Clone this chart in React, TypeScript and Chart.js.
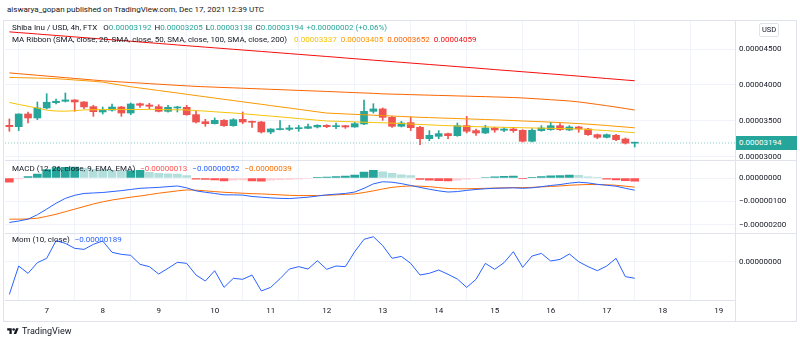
import { useEffect, useRef, useState } from 'react';
import Chart from 'chart.js/auto';

// All price-like values are in units of 0.00000001 USD
const UNIT = 1e-8;
const FIRST_DAY = 6 + 8 / 24; // Dec 6, 08:00 UTC (4h candles)
const STEP_DAYS = 4 / 24;
const DAY_TICKS = [7, 8, 9, 10, 11, 12, 13, 14, 15, 16, 17, 18, 19];
const PRICE_TICKS = [3000, 3500, 4000, 4500];
const MACD_TICKS = [0, -100, -200];
const MOM_TICKS = [0];

const OPEN = [3440, 3421, 3597, 3542, 3681, 3754, 3774, 3792, 3764, 3699,
  3625, 3650, 3694, 3611, 3740, 3722, 3699, 3634, 3681, 3690,
  3588, 3490, 3463, 3509, 3435, 3523, 3495, 3486, 3347, 3380,
  3384, 3393, 3398, 3417, 3440, 3421, 3435, 3417, 3458, 3634,
  3667, 3551, 3426, 3477, 3412, 3254, 3287, 3324, 3296, 3435,
  3366, 3333, 3403, 3371, 3389, 3370, 3218, 3366, 3380, 3435,
  3375, 3417, 3389, 3310, 3273, 3301, 3250, 3192];
const HIGH = [3528, 3600, 3625, 3764, 3879, 3806, 3889, 3797, 3770, 3718,
  3694, 3736, 3704, 3750, 3750, 3745, 3726, 3718, 3704, 3718,
  3635, 3523, 3542, 3518, 3532, 3625, 3500, 3495, 3393, 3505,
  3440, 3440, 3458, 3449, 3449, 3472, 3440, 3481, 3792, 3740,
  3681, 3565, 3495, 3556, 3426, 3366, 3366, 3333, 3472, 3565,
  3389, 3440, 3412, 3412, 3412, 3380, 3393, 3435, 3481, 3463,
  3435, 3426, 3398, 3319, 3319, 3315, 3264, 3205];
const LOW = [3357, 3366, 3472, 3518, 3667, 3736, 3764, 3635, 3671, 3565,
  3597, 3635, 3565, 3588, 3690, 3671, 3625, 3621, 3625, 3579,
  3472, 3426, 3458, 3426, 3426, 3463, 3412, 3333, 3324, 3375,
  3366, 3357, 3393, 3403, 3407, 3393, 3398, 3412, 3449, 3611,
  3509, 3412, 3417, 3366, 3171, 3226, 3254, 3254, 3287, 3333,
  3301, 3324, 3343, 3352, 3343, 3208, 3208, 3357, 3370, 3370,
  3366, 3343, 3301, 3254, 3264, 3226, 3180, 3138];
const CLOSE = [3421, 3597, 3542, 3681, 3760, 3774, 3792, 3764, 3695, 3629,
  3653, 3694, 3611, 3736, 3718, 3704, 3634, 3690, 3694, 3588,
  3486, 3463, 3509, 3435, 3518, 3486, 3482, 3347, 3389, 3389,
  3403, 3407, 3421, 3440, 3421, 3435, 3417, 3463, 3634, 3667,
  3551, 3426, 3472, 3407, 3254, 3301, 3324, 3296, 3435, 3357,
  3333, 3403, 3375, 3389, 3366, 3218, 3370, 3403, 3435, 3380,
  3417, 3389, 3310, 3273, 3310, 3240, 3192, 3194];

const SMA20 = [3757, 3730, 3705, 3680, 3650, 3638, 3636, 3643, 3654, 3657,
  3658, 3660, 3661, 3660, 3659, 3662, 3660, 3657, 3655, 3653,
  3645, 3637, 3628, 3619, 3611, 3600, 3590, 3579, 3568, 3557,
  3545, 3534, 3522, 3511, 3500, 3496, 3492, 3488, 3483, 3479,
  3475, 3470, 3464, 3458, 3452, 3446, 3440, 3435, 3430, 3425,
  3421, 3418, 3415, 3412, 3409, 3406, 3403, 3400, 3398, 3395,
  3392, 3389, 3382, 3374, 3366, 3357, 3347, 3337];
const SMA50 = [4105, 4102, 4099, 4096, 4093, 4088, 4079, 4070, 4061, 4051,
  4040, 4018, 3997, 3976, 3958, 3941, 3923, 3906, 3889, 3871,
  3853, 3836, 3818, 3801, 3784, 3766, 3749, 3732, 3714, 3697,
  3680, 3662, 3645, 3627, 3610, 3604, 3598, 3592, 3586, 3580,
  3575, 3569, 3563, 3557, 3551, 3547, 3542, 3538, 3534, 3529,
  3525, 3520, 3516, 3511, 3506, 3500, 3495, 3490, 3484, 3478,
  3471, 3464, 3456, 3447, 3437, 3426, 3416, 3405];
const SMA100 = [4168, 4157, 4146, 4135, 4124, 4113, 4102, 4091, 4080, 4069,
  4058, 4050, 4042, 4034, 4027, 4019, 4011, 4003, 3995, 3988,
  3980, 3975, 3970, 3965, 3960, 3955, 3950, 3945, 3940, 3935,
  3930, 3925, 3920, 3915, 3910, 3905, 3899, 3894, 3889, 3884,
  3877, 3873, 3870, 3866, 3862, 3859, 3855, 3852, 3848, 3845,
  3841, 3838, 3834, 3830, 3826, 3820, 3812, 3804, 3795, 3787,
  3778, 3765, 3748, 3730, 3712, 3693, 3673, 3652];
const SMA200 = [4738, 4728, 4719, 4708, 4698, 4688, 4678, 4668, 4658, 4648,
  4638, 4628, 4618, 4608, 4597, 4587, 4577, 4567, 4556, 4546,
  4536, 4526, 4516, 4506, 4496, 4486, 4476, 4466, 4456, 4446,
  4436, 4426, 4416, 4406, 4396, 4386, 4375, 4365, 4355, 4345,
  4335, 4325, 4315, 4305, 4295, 4285, 4275, 4265, 4255, 4245,
  4235, 4225, 4214, 4204, 4194, 4184, 4174, 4164, 4154, 4144,
  4133, 4123, 4112, 4101, 4090, 4080, 4069, 4059];

const MACD_HIST = [-18, -4, 6, 17, 36, 45, 46, 47, 42, 37,
  36, 33, 29, 31, 33, 24, 20, 18, 17, 10,
  -5, -6, -8, -12, -9, -8, -12, -13, -9, -7,
  -6, -4, -2, 3, 4, 6, 8, 13, 25, 33,
  26, 20, 14, 10, -6, -9, -11, -12, -9, -5,
  -2, 2, 5, 7, 8, -3, 1, 6, 9, 10,
  13, 11, 5, 1, -5, -8, -11, -13];
const MACD_LINE = [-190, -184, -176, -157, -133, -108, -87, -74, -66, -64,
  -62, -58, -54, -49, -44, -42, -40, -37, -34, -42,
  -55, -61, -66, -72, -72, -73, -79, -82, -85, -87,
  -88, -85, -82, -77, -72, -69, -66, -60, -44, -25,
  -16, -18, -24, -32, -40, -48, -55, -60, -58, -53,
  -49, -46, -44, -43, -42, -44, -42, -37, -32, -28,
  -22, -18, -21, -27, -31, -35, -44, -52];
const MACD_SIGNAL = [-176, -176, -175, -172, -164, -155, -144, -133, -122, -111,
  -102, -94, -88, -82, -77, -71, -65, -60, -55, -51,
  -52, -55, -58, -61, -63, -65, -67, -68, -70, -72,
  -74, -75, -75, -75, -74, -72, -70, -68, -62, -55,
  -47, -40, -36, -34, -35, -37, -41, -45, -46, -46,
  -45, -44, -43, -42, -41, -41, -40, -38, -36, -34,
  -31, -29, -28, -28, -29, -31, -35, -39];
const MOM = [-371, -51, -134, -13, 36, 235, 205, 149, 137, 194,
  232, 104, 81, 70, -32, -58, -141, -77, -9, -21,
  -153, -220, -104, -292, -190, -201, -153, -333, -292, -194,
  -85, -58, -85, 9, -88, -51, -58, 111, 251, 280,
  180, 36, 58, -21, -153, -133, -96, -145, -198, -292,
  -201, -21, -88, -13, 111, -66, 62, 92, 6, 24,
  85, -2, -58, -104, -51, 36, -171, -189];

const X_MIN = 6.2554;
const X_MAX = 19.291;
const PRICE_RANGE = [2958, 4889];
const MACD_RANGE = [-233, 77];
const MOM_RANGE = [-435, 328];

const FONT = 'Roboto, "Liberation Sans", Arial, sans-serif';
const TEXT = '#131722';
const UP = '#26a69a';
const DOWN = '#ef5350';
const GRID = '#f0f3fa';
const LINE = '#e0e3eb';

const fmt = (v: number) => (v < 0 ? '\u2212' : '') + (Math.abs(v) * UNIT).toFixed(8);
const fmtSigned = (v: number) => (v < 0 ? '\u2212' : '+') + (Math.abs(v) * UNIT).toFixed(8);

const TIMES = OPEN.map((_, i) => FIRST_DAY + i * STEP_DAYS);
const LAST = CLOSE.length - 1;

function yScale(weight: number, range: number[], tickValues: number[]) {
  return {
    type: 'linear',
    position: 'right',
    stack: 'panes',
    stackWeight: weight,
    min: range[0],
    max: range[1],
    bounds: 'data',
    afterBuildTicks: (s: any) => { s.ticks = tickValues.map((v) => ({ value: v })); },
    afterFit: (s: any) => { s.width = 62; },
    grid: { color: GRID, drawTicks: false },
    border: { color: LINE },
    ticks: { callback: (v: any) => fmt(Number(v)), color: TEXT, font: { family: FONT, size: 8 }, padding: 4, autoSkip: false },
  };
}

const separators = {
  id: 'separators',
  afterDraw(chart: any) {
    const ctx = chart.ctx;
    const area = chart.chartArea;
    ctx.save();
    ctx.strokeStyle = LINE;
    ctx.lineWidth = 1;
    for (const id of ['yMacd', 'yMom']) {
      const y = Math.round(chart.scales[id].top) + 0.5;
      ctx.beginPath();
      ctx.moveTo(area.left, y);
      ctx.lineTo(797, y);
      ctx.stroke();
    }
    const xr = Math.round(area.right) + 0.5;
    ctx.beginPath();
    ctx.moveTo(xr, area.bottom);
    ctx.lineTo(xr, 321);
    ctx.stroke();
    ctx.restore();
  },
};

function lineDs(values: number[], color: string, axis: string, order: number) {
  return {
    type: 'line',
    data: values.map((v, i) => ({ x: TIMES[i], y: v })),
    borderColor: color,
    borderWidth: 1,
    pointRadius: 0,
    tension: 0,
    fill: false,
    yAxisID: axis,
    order,
  };
}

export default function App() {
  const canvasRef = useRef<HTMLCanvasElement>(null);
  const [priceY, setPriceY] = useState<number | null>(null);

  useEffect(() => {
    const candleColors = CLOSE.map((c, i) => (c >= OPEN[i] ? UP : DOWN));
    const histColors = MACD_HIST.map((v, i) => {
      const prev = i > 0 ? MACD_HIST[i - 1] : 0;
      if (v >= 0) return v > prev ? '#26a69a' : '#b2dfdb';
      return v < prev ? '#ff5252' : '#ffcdd2';
    });
    const chart = new Chart(canvasRef.current as HTMLCanvasElement, {
      type: 'bar',
      data: {
        datasets: [
          {
            type: 'line',
            data: [{ x: X_MIN, y: CLOSE[LAST] }, { x: X_MAX, y: CLOSE[LAST] }],
            borderColor: 'rgba(38,166,154,0.55)',
            borderWidth: 1,
            borderDash: [1, 2],
            pointRadius: 0,
            yAxisID: 'y',
            order: 20,
          },
          {
            type: 'bar',
            data: TIMES.map((t, i) => ({ x: t, y: [LOW[i], HIGH[i]] })),
            backgroundColor: candleColors,
            barThickness: 1,
            grouped: false,
            yAxisID: 'y',
            order: 11,
          },
          {
            type: 'bar',
            data: TIMES.map((t, i) => ({ x: t, y: [OPEN[i], CLOSE[i]] })),
            backgroundColor: candleColors,
            barThickness: 7,
            minBarLength: 1,
            grouped: false,
            yAxisID: 'y',
            order: 10,
          },
          lineDs(SMA20, '#f6c309', 'y', 4),
          lineDs(SMA50, '#fb9800', 'y', 3),
          lineDs(SMA100, '#fb6500', 'y', 2),
          lineDs(SMA200, '#f60c0c', 'y', 1),
          {
            type: 'bar',
            data: TIMES.map((t, i) => ({ x: t, y: MACD_HIST[i] })),
            backgroundColor: histColors,
            barThickness: 8,
            grouped: false,
            yAxisID: 'yMacd',
            order: 12,
          },
          lineDs(MACD_LINE, '#2962ff', 'yMacd', 5),
          lineDs(MACD_SIGNAL, '#ff6d00', 'yMacd', 6),
          lineDs(MOM, '#2962ff', 'yMom', 5),
        ] as any,
      },
      options: {
        responsive: false,
        maintainAspectRatio: false,
        animation: false,
        events: [],
        layout: { padding: { left: 5, top: 21, right: 3, bottom: 22 } },
        plugins: { legend: { display: false }, tooltip: { enabled: false } },
        scales: {
          x: {
            type: 'linear',
            position: 'bottom',
            min: X_MIN,
            max: X_MAX,
            bounds: 'data',
            offset: false,
            afterBuildTicks: (s: any) => { s.ticks = DAY_TICKS.map((v) => ({ value: v })); },
            afterFit: (s: any) => { s.height = 21; },
            grid: { color: GRID, drawTicks: false },
            border: { color: LINE },
            ticks: { callback: (v: any) => String(v), color: TEXT, font: { family: FONT, size: 8 }, padding: 6, maxRotation: 0, autoSkip: false },
          },
          y: yScale(139, PRICE_RANGE, PRICE_TICKS),
          yMacd: yScale(72.5, MACD_RANGE, MACD_TICKS),
          yMom: yScale(67.5, MOM_RANGE, MOM_TICKS),
        } as any,
      },
      plugins: [separators],
    } as any);
    setPriceY((chart.scales as any).y.getPixelForValue(CLOSE[LAST]));
    return () => chart.destroy();
  }, []);

  const legend: React.CSSProperties = {
    position: 'absolute', left: 12, fontSize: 8, lineHeight: '10px', whiteSpace: 'pre', color: TEXT, fontFamily: FONT,
  };
  const change = CLOSE[LAST] - CLOSE[LAST - 1];
  const pct = (change / CLOSE[LAST - 1]) * 100;
  const ohlcColor = CLOSE[LAST] >= OPEN[LAST] ? UP : DOWN;

  return (
    <div style={{ position: 'fixed', left: 0, top: 0, width: 800, height: 343, background: '#fff', overflow: 'hidden', fontFamily: FONT }}>
      <div style={{ position: 'absolute', left: 7, top: 5, fontSize: 8, lineHeight: '10px', color: TEXT, whiteSpace: 'pre' }}>
        aiswarya_gopan published on TradingView.com, Dec 17, 2021 12:39 UTC
      </div>
      <canvas ref={canvasRef} width={800} height={343} style={{ position: 'absolute', left: 0, top: 0, width: 800, height: 343 }} />
      <div style={{ position: 'absolute', left: 3, top: 20, width: 794, height: 302, border: `1px solid ${LINE}`, boxSizing: 'border-box', pointerEvents: 'none' }} />
      <div style={{ ...legend, top: 23 }}>
        <span>Shiba Inu / USD, 4h, FTX</span>
        <span style={{ marginLeft: 6 }}>O</span><span style={{ color: ohlcColor }}>{fmt(OPEN[LAST])}</span>
        <span style={{ marginLeft: 3 }}>H</span><span style={{ color: ohlcColor }}>{fmt(HIGH[LAST])}</span>
        <span style={{ marginLeft: 3 }}>L</span><span style={{ color: ohlcColor }}>{fmt(LOW[LAST])}</span>
        <span style={{ marginLeft: 3 }}>C</span><span style={{ color: ohlcColor }}>{fmt(CLOSE[LAST])}</span>
        <span style={{ marginLeft: 3, color: ohlcColor }}>{fmtSigned(change)} ({pct >= 0 ? '+' : '\u2212'}{Math.abs(pct).toFixed(2)}%)</span>
      </div>
      <div style={{ ...legend, top: 35 }}>
        <span>MA Ribbon (SMA, close, 20, SMA, close, 50, SMA, close, 100, SMA, close, 200)</span>
        <span style={{ marginLeft: 7, color: '#f6c309' }}>{fmt(SMA20[LAST])}</span>
        <span style={{ marginLeft: 4, color: '#fb9800' }}>{fmt(SMA50[LAST])}</span>
        <span style={{ marginLeft: 4, color: '#fb6500' }}>{fmt(SMA100[LAST])}</span>
        <span style={{ marginLeft: 4, color: '#f60c0c' }}>{fmt(SMA200[LAST])}</span>
      </div>
      <div style={{ ...legend, top: 164 }}>
        <span>MACD (12, 26, close, 9, EMA, EMA)</span>
        <span style={{ marginLeft: 5, color: '#ff5252' }}>{fmt(MACD_HIST[LAST])}</span>
        <span style={{ marginLeft: 5, color: '#2962ff' }}>{fmt(MACD_LINE[LAST])}</span>
        <span style={{ marginLeft: 5, color: '#ff6d00' }}>{fmt(MACD_SIGNAL[LAST])}</span>
      </div>
      <div style={{ ...legend, top: 235 }}>
        <span>Mom (10, close)</span>
        <span style={{ marginLeft: 5, color: '#2962ff' }}>{fmt(MOM[LAST])}</span>
      </div>
      <div style={{ position: 'absolute', left: 759, top: 23, height: 12, padding: '0 2px', border: `1px solid ${LINE}`, borderRadius: 2, fontSize: 7.5, lineHeight: '12px', color: TEXT }}>USD</div>
      {priceY !== null && (
        <div style={{ position: 'absolute', left: 736, top: priceY - 7, width: 61, height: 14, background: UP, color: '#fff', fontSize: 8, lineHeight: '14px', paddingLeft: 3, boxSizing: 'border-box' }}>
          {fmt(CLOSE[LAST])}
        </div>
      )}
      <div style={{ position: 'absolute', left: 7, top: 326, display: 'flex', alignItems: 'center' }}>
        <svg width="12" height="9" viewBox="0 0 36 28">
          <path d="M14 22H7V11H0V4h14v18zM28 22h-8l7.5-18h8L28 22z" fill="#131722" />
          <circle cx="20" cy="8" r="4" fill="#131722" />
        </svg>
        <span style={{ marginLeft: 3, fontSize: 9, lineHeight: '10px', color: TEXT }}>TradingView</span>
      </div>
    </div>
  );
}
